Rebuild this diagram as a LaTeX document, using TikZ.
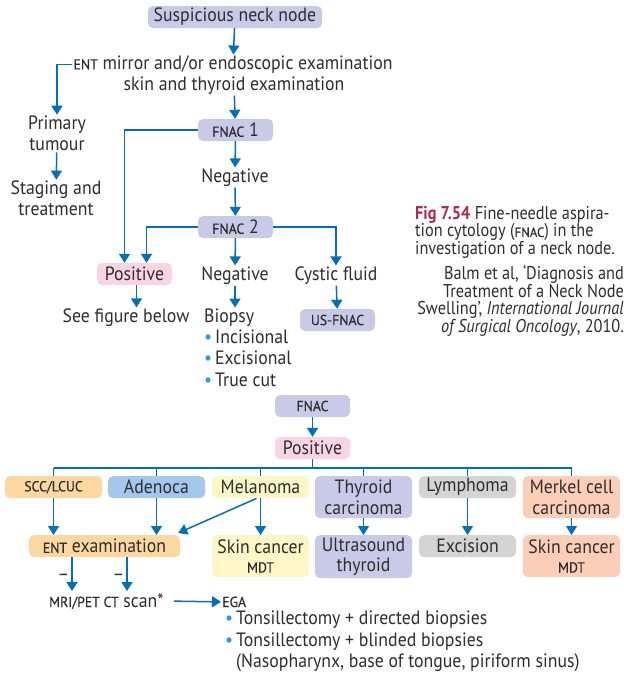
\documentclass[tikz,border=0pt]{standalone}
\usepackage{fontspec}
\setmainfont{PT Sans}[FakeStretch=0.92]
\newfontfamily\capfont{PT Sans}[FakeStretch=0.88]
\newfontfamily\scfont{PT Sans}[FakeStretch=0.95,FakeBold=0.4]
\usetikzlibrary{arrows.meta,calc}
\definecolor{txt}{RGB}{45,45,45}
\definecolor{ablue}{RGB}{0,112,185}
\definecolor{bblue}{RGB}{40,160,215}
\definecolor{lav}{RGB}{200,202,232}
\definecolor{pinkb}{RGB}{249,213,228}
\definecolor{orab}{RGB}{252,216,160}
\definecolor{blueb}{RGB}{163,200,235}
\definecolor{yelb}{RGB}{253,246,198}
\definecolor{grayb}{RGB}{212,212,212}
\definecolor{salb}{RGB}{252,206,184}
\definecolor{crim}{RGB}{176,38,78}
\newcommand\mysc[1]{{\scfont\fontsize{14.5}{16}\selectfont #1}}
\newcommand\capsc[1]{{\scfont\fontsize{13.5}{14}\selectfont #1}}
\newcommand\bul{{\color{bblue}\textbullet}\hspace{3pt}}
\tikzset{
  base/.style={font=\fontsize{19.3}{21.3}\selectfont, text=txt, inner sep=1pt, align=center},
  lbl/.style={base, yshift=-1.5pt},
  box/.style={base, fill=#1, rounded corners=5pt, minimum height=22pt, inner sep=2pt},
  arr/.style={draw=ablue, line width=1.5pt, -{Triangle[width=11pt,length=9pt]}},
  ln/.style={draw=ablue, line width=1.5pt},
  captxt/.style={font=\capfont\fontsize{18.5}{17.6}\selectfont, text=txt, inner sep=0pt},
}
\begin{document}
\begin{tikzpicture}[x=1pt,y=-1pt]
\useasboundingbox (0,0) rectangle (624,673);
% top part
\node[box=lav, minimum width=174] (susp) at (235,17) {Suspicious neck node};
\node[lbl] (entA) at (233,63) {\mysc{ENT} mirror and/or endoscopic examination};
\node[lbl] (entB) at (234,84) {skin and thyroid examination};
\node[lbl] (prim) at (57,132) {Primary\\tumour};
\node[lbl] (stag) at (56,197) {Staging and\\treatment};
\node[box=lav, minimum width=75] (fnac1) at (235.5,130) {\mysc{FNAC} 1};
\node[lbl] (neg1) at (235,176) {Negative};
\node[box=lav, minimum width=75] (fnac2) at (235.5,227) {\mysc{FNAC} 2};
\node[box=pinkb, minimum width=75] (pos1) at (134.5,274) {Positive};
\node[lbl] (neg2) at (235,274) {Negative};
\node[lbl] (cyst) at (336,274) {Cystic fluid};
\node[lbl] (seef) at (126,316) {See figure below};
\node[lbl, anchor=north west, align=left] (biop) at (203,306) {Biopsy\\\bul Incisional\\\bul Excisional\\\bul True cut};
\node[box=lav, minimum width=75] (usf) at (337.5,320) {\mysc{US-FNAC}};
\draw[arr] (susp) -- (entA);
\draw[arr] (entA.west) -| (prim.north);
\draw[arr] (prim) -- (stag);
\draw[arr] (entB) -- (fnac1);
\draw[arr] (fnac1) -- (neg1);
\draw[arr] (neg1) -- (fnac2);
\draw[arr] (fnac1.west) -| ([xshift=-10pt]pos1.north);
\draw[arr] (fnac2.west) -| ([xshift=12pt]pos1.north);
\draw[arr] (fnac2.east) -| (cyst.north);
\draw[arr] (fnac2) -- (neg2);
\draw[arr] ([xshift=2pt]pos1.south) -- ([xshift=2pt]pos1.south |- seef.north);
\draw[arr] (neg2.south) -- (neg2.south |- biop.north);
\draw[arr] (cyst) -- (usf);
% caption
\node[captxt, anchor=north west, align=left] (capA) at (415,206) {{\color{crim}\bfseries Fig 7.54} Fine-needle aspira-\\tion cytology (\capsc{FNAC}) in the\\investigation of a neck node.};
\node[captxt, anchor=north east, align=right] (capB) at (624,265) {Balm et al, ‘Diagnosis and\\Treatment of a Neck Node\\Swelling’, \textit{International Journal}\\\textit{of Surgical Oncology}, 2010.};
% bottom part
\node[box=lav, minimum width=75] (fnac3) at (312.5,406) {\mysc{FNAC}};
\node[box=pinkb, minimum width=75] (pos2) at (312.5,448) {Positive};
\draw[arr] (fnac3) -- (pos2);
\coordinate (bus) at (312.5,468);
\node[box=orab, minimum width=97, anchor=north] (scc) at (53.5,476) {\mysc{SCC/LCUC}};
\node[box=blueb, minimum width=97, anchor=north] (aden) at (156.5,476) {Adenoca};
\node[box=yelb, minimum width=97, anchor=north] (mel) at (260.5,476) {Melanoma};
\node[box=lav, minimum width=97, minimum height=42, anchor=north, font=\fontsize{19.3}{20.5}\selectfont] (thy) at (363.5,476) {Thyroid\\carcinoma};
\node[box=grayb, minimum width=97, anchor=north] (lym) at (467.5,476) {Lymphoma};
\node[box=salb, minimum width=97, minimum height=42, anchor=north, font=\fontsize{19.3}{20.5}\selectfont] (merk) at (571.5,476) {Merkel cell\\carcinoma};
\draw[ln] (pos2.south) -- (bus);
\draw[ln] (scc.north |- bus) -- (merk.north |- bus);
\foreach \b in {scc,aden,mel,thy,lym,merk} {\draw[ln] (\b.north |- bus) -- (\b.north);}
\node[box=orab, minimum width=151, anchor=north] (entx) at (104.5,535) {\mysc{ENT} examination};
\node[box=yelb, minimum width=97, minimum height=42, anchor=north, font=\fontsize{19.3}{19}\selectfont] (skin1) at (260.5,535) {Skin cancer\\\mysc{MDT}};
\node[box=lav, minimum width=97, minimum height=43, anchor=north, font=\fontsize{19.3}{20.5}\selectfont] (ults) at (363.5,535) {Ultrasound\\thyroid};
\node[box=grayb, minimum width=97, anchor=north] (exc) at (467.5,535) {Excision};
\node[box=salb, minimum width=97, minimum height=42, anchor=north, font=\fontsize{19.3}{19}\selectfont] (skin2) at (571.5,535) {Skin cancer\\\mysc{MDT}};
\draw[arr] (scc) -- (scc |- entx.north);
\draw[arr] (aden) -- (aden |- entx.north);
\draw[arr] ([xshift=-4pt]mel.south) -- ([xshift=-2pt,yshift=2pt]entx.north east);
\draw[arr] (mel) -- (skin1);
\draw[arr] (thy) -- (ults);
\draw[arr] (lym) -- (exc);
\draw[arr] (merk) -- (skin2);
\node[base, anchor=base west] (mri) at (48,607) {\mysc{MRI/PET CT} scan*};
\coordinate (m1) at (72,591);
\coordinate (m2) at (127,591);
\draw[arr] (entx.south -| m1) -- (m1) node[pos=0.6, left, base, inner sep=2pt] (d1) {–};
\draw[arr] (entx.south -| m2) -- (m2) node[pos=0.6, left, base, inner sep=2pt] (d2) {–};
\node[base, anchor=base west] (ega) at (221,607) {\mysc{EGA}};
\draw[arr] ([xshift=9pt]mri.east) -- (ega.west);
\node[base, anchor=north west, align=left] (tons) at (224,610) {\bul Tonsillectomy + directed biopsies\\\bul Tonsillectomy + blinded biopsies\\\phantom{\bul}(Nasopharynx, base of tongue, piriform sinus)};
\end{tikzpicture}
\end{document}
